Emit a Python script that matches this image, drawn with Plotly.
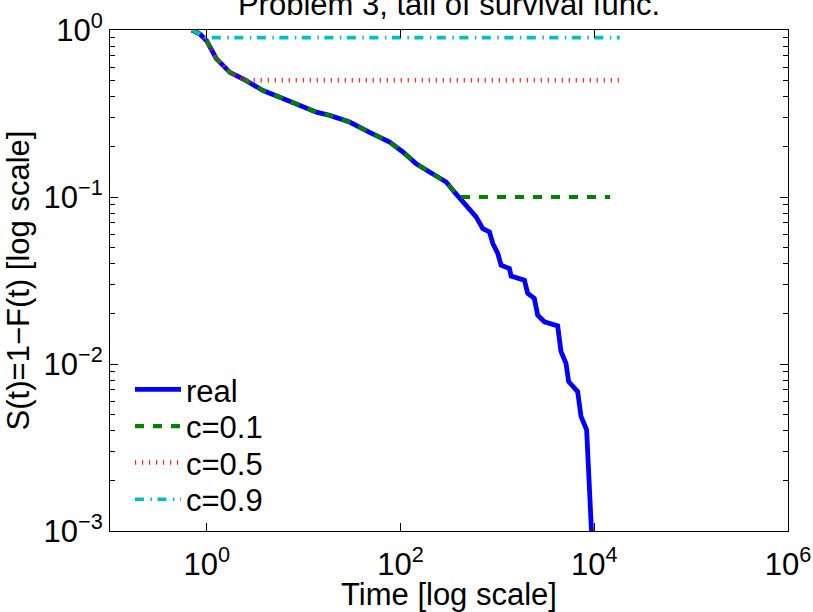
import plotly.graph_objects as go

# ---- data ----
real_t = [0.70, 0.847, 0.993, 1.117, 1.259, 1.416, 1.726, 2.371, 3.126, 3.802, 5.662, 8.414,
          13.52, 18.54, 29.8, 47.9, 77.1, 105.7, 145.2, 199.1, 295.8, 360.6, 405.5, 514.0,
          602.6, 706.3, 827.9, 895.4, 1009, 1091, 1330, 1384, 1897, 2056, 2404, 2606, 3055,
          4188, 4529, 5105, 5433, 6730, 7295, 8337, 8872, 9441]
real_s = [1.0, 0.946, 0.863, 0.752, 0.671, 0.627, 0.558, 0.509, 0.465, 0.434, 0.396, 0.361,
          0.322, 0.308, 0.281, 0.244, 0.213, 0.186, 0.158, 0.141, 0.123, 0.107, 0.0991, 0.0834,
          0.0760, 0.0647, 0.0618, 0.0527, 0.0459, 0.0391, 0.0373, 0.0336, 0.0318, 0.0265, 0.0247,
          0.0196, 0.0179, 0.0169, 0.0119, 0.0101, 0.00785, 0.00684, 0.00485, 0.00404, 0.00212, 0.00089]

c_levels = [0.1, 0.5, 0.9]
c_cross_t = [405.5, 2.45, 0.92]      # time where real curve reaches c
c_end_t = [1.46e4, 1.83e4, 1.83e4]   # end of flat tail

series_names = ["real", "c=0.1", "c=0.5", "c=0.9"]
x_tickvals = [1, 1e2, 1e4, 1e6]
x_ticktext = ["10<sup>0</sup>", "10<sup>2</sup>", "10<sup>4</sup>", "10<sup>6</sup>"]
y_tickvals = [1e-3, 1e-2, 1e-1, 1]
y_ticktext = ["10<sup>−3</sup>", "10<sup>−2</sup>", "10<sup>−1</sup>", "10<sup>0</sup>"]

# ---- styles ----
FONT = "Liberation Sans, Arial, Helvetica, sans-serif"
FS = 31
styles = [
    dict(color="#0000FF", width=4.8, dash="solid"),
    dict(color="#008000", width=4.2, dash="9px,9px"),
    dict(color="#FF2020", width=4.5, dash="1.2px,5.8px"),
    dict(color="#00BFBF", width=3.6, dash="9px,6.5px,1.5px,5.5px"),
]

fig = go.Figure()
fig.add_trace(go.Scatter(x=real_t, y=real_s, mode="lines", name=series_names[0],
                         line=styles[0], legend="legend"))
legend_ids = ["legend2", "legend3", "legend4"]
for i, c in enumerate(c_levels):
    xs = [t for t, s in zip(real_t, real_s) if s > c] + [c_cross_t[i], c_end_t[i]]
    ys = [s for s in real_s if s > c] + [c, c]
    fig.add_trace(go.Scatter(x=xs, y=ys, mode="lines", name=series_names[i + 1],
                             line=styles[i + 1], legend=legend_ids[i]))

L, R, T, B = 109.5, 24.5, 29.5, 80.5
W, H = 813, 612
pw, ph = W - L - R, H - T - B

def legend_cfg(ypx):
    return dict(x=(129.5 - L) / pw, xanchor="left", y=1 - (ypx - T) / ph, yanchor="middle",
                bgcolor="rgba(0,0,0,0)", borderwidth=0, itemwidth=46,
                font=dict(family=FONT, size=FS, color="black"))

axis_common = dict(type="log", showgrid=False, zeroline=False, showline=True, linecolor="black",
                   linewidth=1, mirror="ticks", ticks="inside", ticklen=8, tickcolor="black",
                   automargin=False,
                   tickfont=dict(family=FONT, size=FS, color="black"))

fig.update_layout(
    width=W, height=H,
    margin=dict(l=L, r=R, t=T, b=B, autoexpand=False),
    paper_bgcolor="white", plot_bgcolor="white",
    font=dict(family=FONT, size=FS, color="black"),
    title=dict(text="Problem 3, tail of survival func.", x=0.5, xanchor="center",
               xref="paper", yref="container", y=1 - 4.5 / H, yanchor="middle",
               font=dict(family=FONT, size=FS, color="black")),
    xaxis=dict(range=[-1, 6], tickmode="array", tickvals=x_tickvals, ticktext=x_ticktext,
               ticklabelstandoff=6,
               title=dict(text="Time [log scale]", standoff=0, font=dict(family=FONT, size=FS)),
               **axis_common),
    yaxis=dict(range=[-3, 0], tickmode="array", tickvals=y_tickvals, ticktext=y_ticktext,
               minor=dict(ticks="inside", ticklen=5, tickcolor="black", dtick="D1", showgrid=False),
               title=dict(text="S(t)=1−F(t) [log scale]", standoff=4, font=dict(family=FONT, size=FS)),
               **axis_common),
    legend=legend_cfg(390),
    legend2=legend_cfg(426.7),
    legend3=legend_cfg(463.3),
    legend4=legend_cfg(500),
    showlegend=True,
)

fig.write_html("out.html")
